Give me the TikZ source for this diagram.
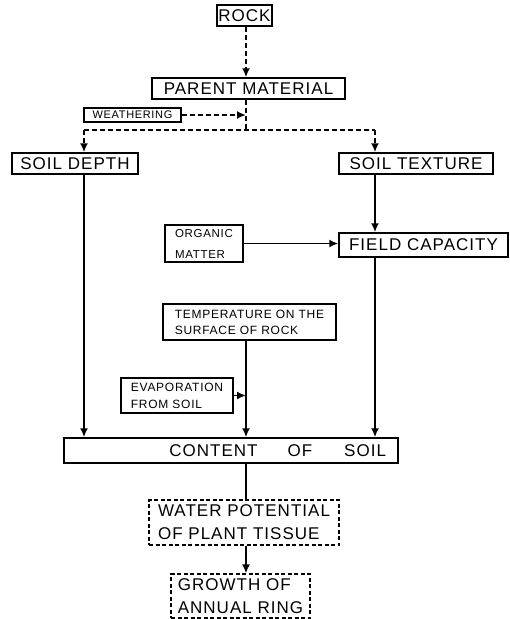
\documentclass[tikz,border=0pt]{standalone}
\usepackage{fontspec}
\setsansfont{Liberation Sans}[LetterSpace=6]
\usetikzlibrary{positioning, arrows.meta, calc}
\def\bigFont{\fontsize{17}{23}\selectfont}
\def\smallFont{\fontsize{11}{16}\selectfont}
\def\splitY{130}
\newcommand{\SoilWaterStyles}{
  \tikzset{
    basebox/.style={
      rectangle,
      draw=black,
      line width=1.5pt,
      inner sep=0pt,
      align=left,
      font=\sffamily\bigFont
    },
    factor/.style={basebox},
    smallbox/.style={basebox, font=\sffamily\smallFont},
    plantbox/.style={basebox, dash pattern=on 4pt off 2.5pt, line width=1.3pt},
    dashline/.style={dash pattern=on 5pt off 3pt}
  }
}
\begin{document}
\begin{tikzpicture}[
  x=1pt, y=-1pt,
  line width=1.7pt,
  >={Latex[length=9pt,width=8pt]},
  font=\sffamily\bigFont
]
  \SoilWaterStyles
  \useasboundingbox (0,0) rectangle (510,619);

  \node[factor, minimum width=55pt, minimum height=21pt] (rock) at (244.5,15.5) {ROCK};
  \node[factor, minimum width=193pt, minimum height=21pt] (parent) at (248.5,88.5) {PARENT MATERIAL};
  \node[smallbox, minimum width=97pt, minimum height=14pt] (weather) at (132.5,115) {WEATHERING};
  \node[factor, minimum width=126pt, minimum height=21pt] (depth) at (75,163.5) {SOIL DEPTH};
  \node[factor, minimum width=154pt, minimum height=21pt] (texture) at (416,163.5) {SOIL TEXTURE};
  \node[smallbox, minimum width=78pt, minimum height=37pt, font=\sffamily\fontsize{11.5}{21}\selectfont] (organic) at (204,243.5) {ORGANIC\\MATTER};
  \node[factor, minimum width=169pt, minimum height=24pt] (field) at (423.5,245) {FIELD CAPACITY};
  \node[smallbox, minimum width=173pt, minimum height=36pt, font=\sffamily\fontsize{12}{16}\selectfont] (temp) at (249.5,322) {TEMPERATURE ON THE\\SURFACE OF ROCK};
  \node[smallbox, minimum width=112pt, minimum height=35pt, font=\sffamily\fontsize{12}{17}\selectfont] (evap) at (177,395.5) {EVAPORATION\\FROM SOIL};
  \node[factor, text width=310pt, inner xsep=12pt, minimum height=25pt, align=right] (content) at (231,450.5) {CONTENT\hspace{30pt}OF\hspace{32pt}SOIL};
  \node[plantbox, minimum width=190pt, minimum height=45pt] (water) at (244,522.5) {WATER POTENTIAL\\OF PLANT TISSUE};
  \node[plantbox, minimum width=139pt, minimum height=44pt] (growth) at (240.5,596) {GROWTH OF\\ANNUAL RING};

  \coordinate (splitL) at (84,\splitY);
  \coordinate (splitM) at (246,\splitY);
  \coordinate (splitR) at (375,\splitY);

  % weathering of the rock
  \draw[dashline, ->] (rock.south -| splitM) -- (parent.north -| splitM);
  \draw[dashline] (parent.south -| splitM) -- (splitM);
  \draw[dashline, ->] (weather.east) -- (weather.east -| splitM);
  \draw[dashline] (splitL) -- (splitR);
  \draw[dashline, ->] (splitL) -- (depth.north -| splitL);
  \draw[dashline, ->] (splitR) -- (texture.north -| splitR);

  % soil factors
  \draw[->] (texture.south -| splitR) -- (field.north -| splitR);
  \draw[->] (organic.east) -- (organic.east -| field.west);
  \draw[->] (depth.south -| splitL) -- (content.north -| splitL);
  \draw[->] (field.south -| splitR) -- (content.north -| splitR);
  \draw[->] (temp.south -| splitM) -- (content.north -| splitM);
  \draw[->] (evap.east) -- (evap.east -| splitM);

  % plant
  \draw (content.south -| splitM) -- (water.north -| splitM);
  \draw[->] (water.south -| splitM) -- (growth.north -| splitM);
\end{tikzpicture}
\end{document}
